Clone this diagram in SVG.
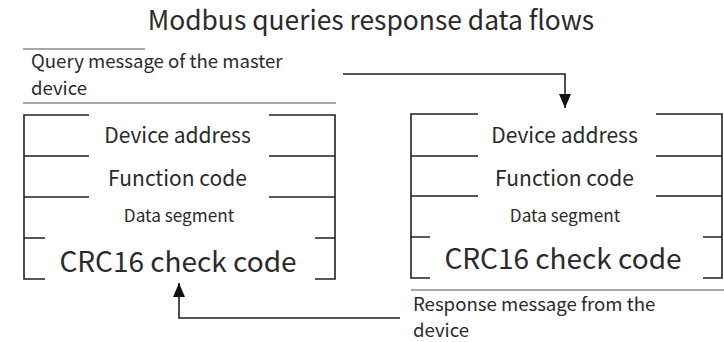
<svg xmlns="http://www.w3.org/2000/svg" width="724" height="342" viewBox="0 0 724 342">
<defs>
<style>
text{font-family:"Noto Sans CJK SC","Noto Sans",sans-serif;fill:#2a2a2a}
.t{font-size:26.4px;text-anchor:middle}
.f{font-size:21px;text-anchor:middle}
.d{font-size:17.2px;text-anchor:middle}
.c{font-size:28px;text-anchor:middle}
.l{font-size:18.6px}
line,path,polyline{stroke:#222;stroke-width:1.6;fill:none}
.thin{stroke:#555;stroke-width:1.2}
</style>
<marker id="ah" markerWidth="14" markerHeight="12" refX="14" refY="6" orient="auto" markerUnits="userSpaceOnUse" viewBox="0 0 14 12">
<path d="M0,0 L14,6 L0,12 Z" style="fill:#111;stroke:none"/>
</marker>
</defs>
<rect width="724" height="342" fill="#fff"/>
<text class="t" x="371" y="30">Modbus queries response data flows</text>

<g id="query-label">
<line class="thin" x1="23" y1="49" x2="145" y2="49"/>
<text class="l" x="31" y="68">Query message of the master</text>
<text class="l" x="31" y="95">device</text>
<line class="thin" x1="23" y1="103" x2="336" y2="103"/>
</g>

<g id="master-frame">
<path d="M89,115 H24 V279 H45 M24,156 H89 M24,197 H89 M24,238 H45"/>
<path d="M269,115 H335 V279 H315 M335,156 H269 M335,197 H269 M335,238 H315"/>
<text class="f" x="177.5" y="143">Device address</text>
<text class="f" x="177.5" y="186">Function code</text>
<text class="d" x="179" y="222">Data segment</text>
<text class="c" x="178" y="272">CRC16 check code</text>
</g>

<g id="slave-frame">
<path d="M478,114 H411 V278 H430 M411,156 H478 M411,196 H478 M411,237 H430"/>
<path d="M656,114 H722 V278 H703 M722,156 H656 M722,196 H656 M722,237 H703"/>
<text class="f" x="564.5" y="143">Device address</text>
<text class="f" x="564.5" y="186">Function code</text>
<text class="d" x="565" y="222">Data segment</text>
<text class="c" x="563" y="269">CRC16 check code</text>
</g>

<g id="response-label">
<line class="thin" x1="411" y1="290" x2="724" y2="290"/>
<text class="l" x="413" y="311">Response message from the</text>
<text class="l" x="413" y="337">device</text>
</g>

<g id="connectors">
<polyline points="343,74 565,74 565,108" marker-end="url(#ah)"/>
<polyline points="400,318 179,318 179,283" marker-end="url(#ah)"/>
</g>
</svg>
